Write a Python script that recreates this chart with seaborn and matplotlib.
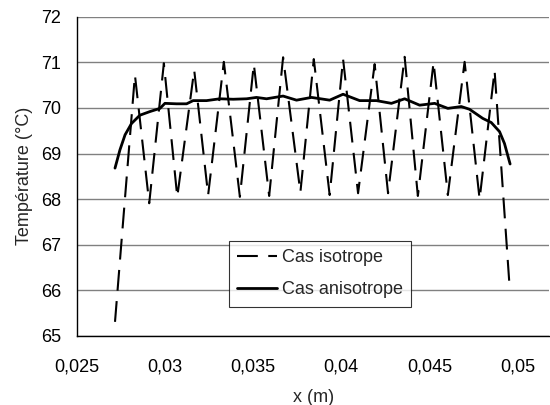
import matplotlib
matplotlib.use('Agg')
import matplotlib.pyplot as plt
import seaborn as sns
import pandas as pd
from matplotlib.ticker import FuncFormatter

# Cas isotrope : points (pics et creux)
iso_x = [0.02717, 0.02830, 0.02911, 0.02994, 0.03070, 0.03166, 0.03245, 0.03334,
         0.03425, 0.03504, 0.03591, 0.03670, 0.03768, 0.03844, 0.03934, 0.04010,
         0.04095, 0.04189, 0.04265, 0.04359, 0.04434, 0.04523, 0.04604, 0.04699,
         0.04784, 0.04869, 0.04954]
iso_y = [65.31, 70.72, 67.91, 70.98, 68.05, 70.83, 68.09, 71.01,
         68.05, 70.96, 68.07, 71.11, 68.15, 71.07, 68.09, 71.07,
         68.13, 70.96, 68.13, 71.12, 68.07, 71.00, 68.09, 71.01,
         68.00, 70.82, 66.08]

# Cas anisotrope
aniso_x = [0.02717, 0.02745, 0.02774, 0.02811, 0.02858, 0.02915, 0.02972, 0.03000,
           0.03066, 0.03123, 0.03160, 0.03236, 0.03311, 0.03387, 0.03463, 0.03519,
           0.03576, 0.03670, 0.03746, 0.03831, 0.03934, 0.04010, 0.04104, 0.04199,
           0.04284, 0.04359, 0.04444, 0.04529, 0.04604, 0.04680, 0.04727, 0.04802,
           0.04850, 0.04897, 0.04925, 0.04957]
aniso_y = [68.68, 69.08, 69.41, 69.66, 69.84, 69.92, 69.99, 70.10,
           70.09, 70.09, 70.16, 70.16, 70.20, 70.19, 70.20, 70.23,
           70.20, 70.26, 70.17, 70.23, 70.17, 70.30, 70.16, 70.16,
           70.10, 70.20, 70.06, 70.10, 69.99, 70.03, 69.97, 69.77,
           69.68, 69.48, 69.22, 68.77]

x_ticks = [0.025, 0.03, 0.035, 0.04, 0.045, 0.05]
y_ticks = [65, 66, 67, 68, 69, 70, 71, 72]

sns.set_style('white')
plt.rcParams['font.family'] = ['Liberation Sans', 'DejaVu Sans']
fs = 13

fig = plt.figure(figsize=(5.5, 4.05), dpi=100)
ax = fig.add_axes([0.1395, 0.1704, 0.8595, 0.7884])

df_iso = pd.DataFrame({'x': iso_x, 'T': iso_y})
df_aniso = pd.DataFrame({'x': aniso_x, 'T': aniso_y})

for y in y_ticks:
    ax.axhline(y, color='#808080', lw=1, zorder=0)

sns.lineplot(ax=ax, data=df_iso, x='x', y='T', estimator=None, color='black',
             lw=1.5, linestyle=(0, (10, 5)), label='Cas isotrope')
sns.lineplot(ax=ax, data=df_aniso, x='x', y='T', estimator=None, color='black',
             lw=2.0, label='Cas anisotrope')

ax.set_xlim(0.025, 0.0518)
ax.set_ylim(65, 72)
ax.set_xticks(x_ticks)
ax.set_yticks(y_ticks)
ax.xaxis.set_major_formatter(FuncFormatter(lambda v, p: ('%g' % v).replace('.', ',')))
ax.yaxis.set_major_formatter(FuncFormatter(lambda v, p: '%d' % v))

for s in ['top', 'right']:
    ax.spines[s].set_visible(False)
for s in ['left', 'bottom']:
    ax.spines[s].set_color('black')
    ax.spines[s].set_linewidth(1)
ax.tick_params(axis='x', direction='out', length=5, width=1, colors='black', labelsize=fs, pad=11)
ax.tick_params(axis='y', direction='inout', length=8, width=1, colors='black', labelsize=fs, pad=7)

ax.set_xlabel('x (m)', fontsize=fs, labelpad=10)
ax.set_ylabel('Température (°C)', fontsize=fs, labelpad=6)

leg = ax.legend(loc='upper left', bbox_to_anchor=(0.322, 0.2975), fontsize=fs,
                frameon=True, fancybox=False, handlelength=2.2, labelspacing=0.85,
                borderpad=0.45, handletextpad=0.3, borderaxespad=0)
leg.get_frame().set_edgecolor('black')
leg.get_frame().set_linewidth(0.8)

plt.savefig('out.png', dpi=100)
